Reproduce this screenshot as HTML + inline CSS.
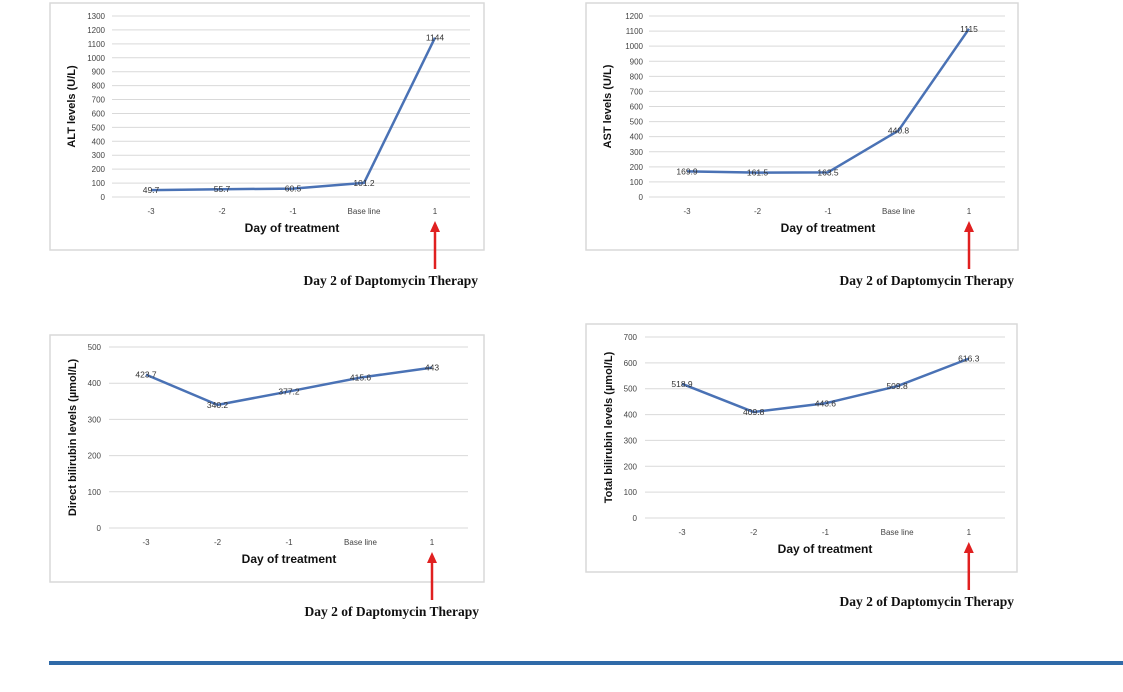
<!DOCTYPE html>
<html><head><meta charset="utf-8"><style>
body{margin:0;background:#fff;width:1123px;height:692px;overflow:hidden}
svg{display:block}
</style></head><body>
<svg id="root" width="1123" height="692" xmlns="http://www.w3.org/2000/svg" font-family="Liberation Sans, sans-serif">
<rect x="49" y="661" width="1074" height="4" fill="#2f6aa8"/>
</svg>
<script>
const categories = ["-3","-2","-1","Base line","1"];
const altValues = [49.7,55.7,60.5,101.2,1144];
const astValues = [169.9,161.5,163.5,440.8,1115];
const directValues = [423.7,340.2,377.2,415.6,443];
const totalValues = [518.9,409.8,443.6,509.8,616.3];
const altLabels = ["49.7","55.7","60.5","101.2","1144"];
const astLabels = ["169.9","161.5","163.5","440.8","1115"];
const directLabels = ["423.7","340.2","377.2","415.6","443"];
const totalLabels = ["518.9","409.8","443.6","509.8","616.3"];
const altTicks = [0,100,200,300,400,500,600,700,800,900,1000,1100,1200,1300];
const astTicks = [0,100,200,300,400,500,600,700,800,900,1000,1100,1200];
const directTicks = [0,100,200,300,400,500];
const totalTicks = [0,100,200,300,400,500,600,700];

const NS="http://www.w3.org/2000/svg";
const root=document.getElementById('root');
function mk(tag,attrs,parent,text){const e=document.createElementNS(NS,tag);for(const k in attrs)e.setAttribute(k,attrs[k]);if(text!==undefined)e.textContent=text;parent.appendChild(e);return e;}

function chart(cfg,vals,labels,ticks){
  const g=mk('g',{},root);
  
  
  const fr=mk('rect',{x:cfg.fx,y:cfg.fy,width:cfg.fw,height:cfg.fh,fill:'#fff',stroke:'#d9d9d9','stroke-width':1.5},g);
  
  
  const maxT=ticks[ticks.length-1];
  const y=v=>cfg.y0+(cfg.yTop-cfg.y0)*v/maxT;
  const x=i=>cfg.x0+i*cfg.dx;
  ticks.forEach(t=>{
    const l=mk('line',{x1:cfg.gx1,x2:cfg.gx2,y1:y(t),y2:y(t),stroke:'#d9d9d9','stroke-width':1},g);
    
    
    const tx=mk('text',{x:cfg.lx,y:y(t)+3,'font-size':8,fill:'#444','text-anchor':'end'},g,String(t));
    
    
  });
  categories.forEach((c,i)=>{
    const tx=mk('text',{x:x(i),y:cfg.y0+17,'font-size':8,fill:'#444','text-anchor':'middle'},g,c);
    
    
  });
  const pts=vals.map((v,i)=>x(i)+','+y(v)).join(' ');
  const pl=mk('polyline',{points:pts,fill:'none',stroke:'#4a72b5','stroke-width':2.5,'stroke-linejoin':'round'},g);
  
  
  vals.forEach((v,i)=>{
    const tx=mk('text',{x:x(i),y:y(v)+3,'font-size':8.5,fill:'#333','text-anchor':'middle'},g,labels[i]);
    
    
  });
  const yt=mk('text',{x:0,y:0,'font-size':11,'font-weight':'bold',fill:'#111','text-anchor':'middle',transform:`translate(${cfg.ytx},${(cfg.y0+cfg.yTop)/2}) rotate(-90)`},g,cfg.ytitle);
  
  
  const xt=mk('text',{x:cfg.xtx,y:cfg.y0+35,'font-size':12,'font-weight':'bold',fill:'#111','text-anchor':'middle'},g,'Day of treatment');
  
  
  const ax=x(4);
  const ar=mk('line',{x1:ax,x2:ax,y1:cfg.y0+35,y2:cfg.y0+72,stroke:'#e02020','stroke-width':2.5},g);
  
  
  const ah=mk('polygon',{points:`${ax-5},${cfg.y0+35} ${ax+5},${cfg.y0+35} ${ax},${cfg.y0+24}`,fill:'#e02020'},g);
  
  
  const an=mk('text',{x:cfg.ax2,y:cfg.y0+88,'font-size':13.5,'font-weight':'bold','font-family':'Liberation Serif, serif',fill:'#111','text-anchor':'end'},g,'Day 2 of Daptomycin Therapy');
  
  
}
chart({name:'alt-chart',fx:50,fy:3,fw:434,fh:247,y0:197,yTop:16,gx1:112,gx2:470,lx:105,x0:151,dx:71,ytx:75,xtx:292,ytitle:'ALT levels (U/L)',ax2:478},altValues,altLabels,altTicks);
chart({name:'ast-chart',fx:586,fy:3,fw:432,fh:247,y0:197,yTop:16,gx1:649,gx2:1005,lx:643,x0:687,dx:70.5,ytx:611,xtx:828,ytitle:'AST levels (U/L)',ax2:1014},astValues,astLabels,astTicks);
chart({name:'direct-bilirubin-chart',fx:50,fy:335,fw:434,fh:247,y0:528,yTop:347,gx1:109,gx2:468,lx:101,x0:146,dx:71.5,ytx:76,xtx:289,ytitle:'Direct bilirubin levels (µmol/L)',ax2:479},directValues,directLabels,directTicks);
chart({name:'total-bilirubin-chart',fx:586,fy:324,fw:431,fh:248,y0:518,yTop:337,gx1:645,gx2:1005,lx:637,x0:682,dx:71.7,ytx:612,xtx:825,ytitle:'Total bilirubin levels (µmol/L)',ax2:1014},totalValues,totalLabels,totalTicks);
</script>
</body></html>
